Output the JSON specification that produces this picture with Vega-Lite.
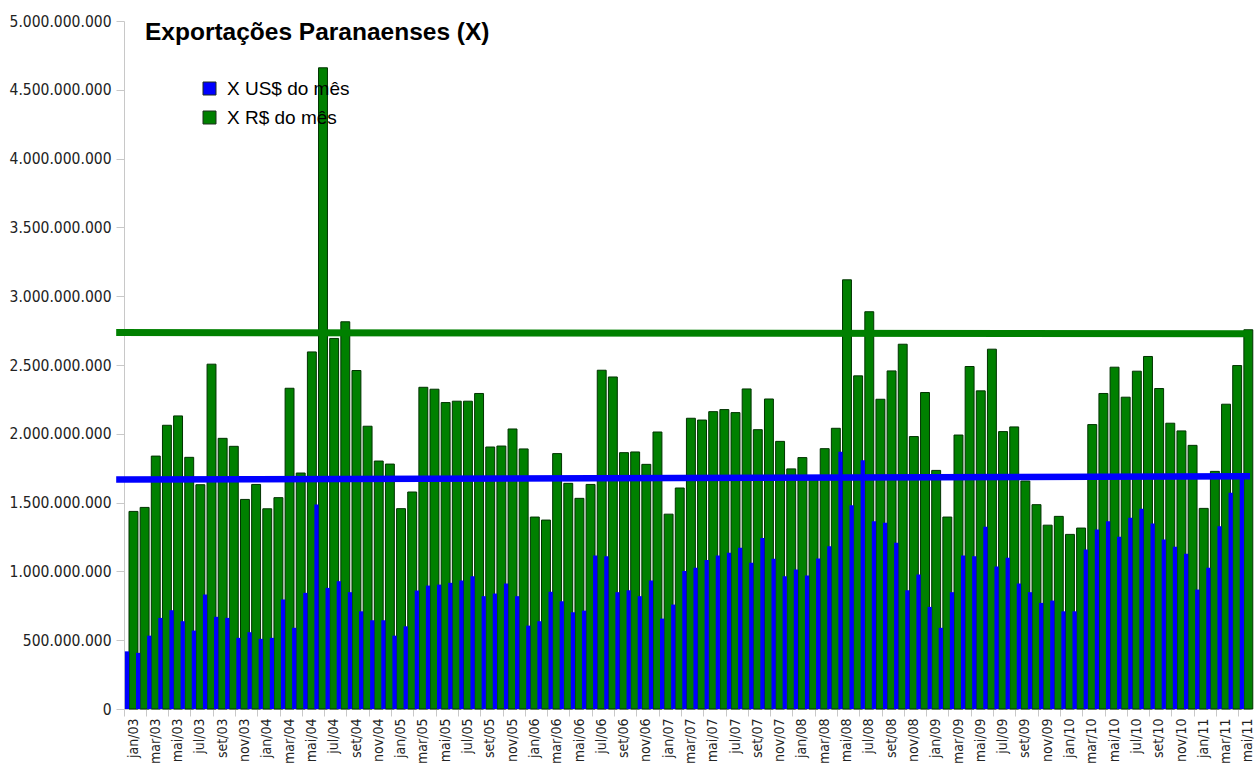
{
  "$schema": "https://vega.github.io/schema/vega-lite/v6.json",
  "width": 1126,
  "height": 688,
  "autosize": {"type": "none"},
  "padding": {"left": 124, "top": 21, "right": 4, "bottom": 58},
  "background": "white",
  "config": {
    "view": {"stroke": null},
    "locale": {"number": {"decimal": ",", "thousands": ".", "grouping": [3], "currency": ["R$", ""]}}
  },
  "title": {
    "text": "Exportações Paranaenses (X)",
    "anchor": "start",
    "frame": "group",
    "font": "Liberation Sans",
    "fontSize": 24.5,
    "fontWeight": "bold",
    "color": "black",
    "offset": -31,
    "dx": 21
  },
  "datasets": {
    "m": [
      {"mes": "jan/03", "brl": 1436000000, "usd": 419000000},
      {"mes": "fev/03", "brl": 1465000000, "usd": 408000000},
      {"mes": "mar/03", "brl": 1838000000, "usd": 533000000},
      {"mes": "abr/03", "brl": 2062000000, "usd": 662000000},
      {"mes": "mai/03", "brl": 2130000000, "usd": 718000000},
      {"mes": "jun/03", "brl": 1829000000, "usd": 638000000},
      {"mes": "jul/03", "brl": 1630000000, "usd": 570000000},
      {"mes": "ago/03", "brl": 2506000000, "usd": 832000000},
      {"mes": "set/03", "brl": 1967000000, "usd": 670000000},
      {"mes": "out/03", "brl": 1909000000, "usd": 662000000},
      {"mes": "nov/03", "brl": 1523000000, "usd": 517000000},
      {"mes": "dez/03", "brl": 1632000000, "usd": 558000000},
      {"mes": "jan/04", "brl": 1455000000, "usd": 510000000},
      {"mes": "fev/04", "brl": 1536000000, "usd": 517000000},
      {"mes": "mar/04", "brl": 2331000000, "usd": 796000000},
      {"mes": "abr/04", "brl": 1715000000, "usd": 590000000},
      {"mes": "mai/04", "brl": 2595000000, "usd": 844000000},
      {"mes": "jun/04", "brl": 4660000000, "usd": 1487000000},
      {"mes": "jul/04", "brl": 2693000000, "usd": 880000000},
      {"mes": "ago/04", "brl": 2814000000, "usd": 929000000},
      {"mes": "set/04", "brl": 2460000000, "usd": 849000000},
      {"mes": "out/04", "brl": 2055000000, "usd": 710000000},
      {"mes": "nov/04", "brl": 1802000000, "usd": 645000000},
      {"mes": "dez/04", "brl": 1780000000, "usd": 645000000},
      {"mes": "jan/05", "brl": 1456000000, "usd": 533000000},
      {"mes": "fev/05", "brl": 1577000000, "usd": 601000000},
      {"mes": "mar/05", "brl": 2338000000, "usd": 861000000},
      {"mes": "abr/05", "brl": 2324000000, "usd": 897000000},
      {"mes": "mai/05", "brl": 2227000000, "usd": 904000000},
      {"mes": "jun/05", "brl": 2237000000, "usd": 917000000},
      {"mes": "jul/05", "brl": 2237000000, "usd": 934000000},
      {"mes": "ago/05", "brl": 2293000000, "usd": 965000000},
      {"mes": "set/05", "brl": 1904000000, "usd": 820000000},
      {"mes": "out/05", "brl": 1911000000, "usd": 839000000},
      {"mes": "nov/05", "brl": 2035000000, "usd": 912000000},
      {"mes": "dez/05", "brl": 1890000000, "usd": 820000000},
      {"mes": "jan/06", "brl": 1395000000, "usd": 606000000},
      {"mes": "fev/06", "brl": 1373000000, "usd": 638000000},
      {"mes": "mar/06", "brl": 1856000000, "usd": 852000000},
      {"mes": "abr/06", "brl": 1640000000, "usd": 783000000},
      {"mes": "mai/06", "brl": 1531000000, "usd": 703000000},
      {"mes": "jun/06", "brl": 1632000000, "usd": 715000000},
      {"mes": "jul/06", "brl": 2462000000, "usd": 1116000000},
      {"mes": "ago/06", "brl": 2413000000, "usd": 1111000000},
      {"mes": "set/06", "brl": 1863000000, "usd": 849000000},
      {"mes": "out/06", "brl": 1868000000, "usd": 863000000},
      {"mes": "nov/06", "brl": 1778000000, "usd": 820000000},
      {"mes": "dez/06", "brl": 2013000000, "usd": 934000000},
      {"mes": "jan/07", "brl": 1416000000, "usd": 657000000},
      {"mes": "fev/07", "brl": 1606000000, "usd": 759000000},
      {"mes": "mar/07", "brl": 2113000000, "usd": 1002000000},
      {"mes": "abr/07", "brl": 2100000000, "usd": 1026000000},
      {"mes": "mai/07", "brl": 2161000000, "usd": 1082000000},
      {"mes": "jun/07", "brl": 2176000000, "usd": 1116000000},
      {"mes": "jul/07", "brl": 2154000000, "usd": 1135000000},
      {"mes": "ago/07", "brl": 2326000000, "usd": 1172000000},
      {"mes": "set/07", "brl": 2030000000, "usd": 1063000000},
      {"mes": "out/07", "brl": 2253000000, "usd": 1242000000},
      {"mes": "nov/07", "brl": 1945000000, "usd": 1092000000},
      {"mes": "dez/07", "brl": 1745000000, "usd": 965000000},
      {"mes": "jan/08", "brl": 1827000000, "usd": 1014000000},
      {"mes": "fev/08", "brl": 1690000000, "usd": 970000000},
      {"mes": "mar/08", "brl": 1892000000, "usd": 1094000000},
      {"mes": "abr/08", "brl": 2040000000, "usd": 1183000000},
      {"mes": "mai/08", "brl": 3119000000, "usd": 1870000000},
      {"mes": "jun/08", "brl": 2421000000, "usd": 1480000000},
      {"mes": "jul/08", "brl": 2887000000, "usd": 1807000000},
      {"mes": "ago/08", "brl": 2251000000, "usd": 1365000000},
      {"mes": "set/08", "brl": 2457000000, "usd": 1354000000},
      {"mes": "out/08", "brl": 2651000000, "usd": 1208000000},
      {"mes": "nov/08", "brl": 1980000000, "usd": 863000000},
      {"mes": "dez/08", "brl": 2300000000, "usd": 977000000},
      {"mes": "jan/09", "brl": 1734000000, "usd": 742000000},
      {"mes": "fev/09", "brl": 1395000000, "usd": 590000000},
      {"mes": "mar/09", "brl": 1991000000, "usd": 849000000},
      {"mes": "abr/09", "brl": 2489000000, "usd": 1116000000},
      {"mes": "mai/09", "brl": 2312000000, "usd": 1111000000},
      {"mes": "jun/09", "brl": 2615000000, "usd": 1325000000},
      {"mes": "jul/09", "brl": 2016000000, "usd": 1036000000},
      {"mes": "ago/09", "brl": 2050000000, "usd": 1099000000},
      {"mes": "set/09", "brl": 1657000000, "usd": 912000000},
      {"mes": "out/09", "brl": 1485000000, "usd": 849000000},
      {"mes": "nov/09", "brl": 1336000000, "usd": 771000000},
      {"mes": "dez/09", "brl": 1400000000, "usd": 788000000},
      {"mes": "jan/10", "brl": 1269000000, "usd": 710000000},
      {"mes": "fev/10", "brl": 1315000000, "usd": 710000000},
      {"mes": "mar/10", "brl": 2067000000, "usd": 1159000000},
      {"mes": "abr/10", "brl": 2293000000, "usd": 1305000000},
      {"mes": "mai/10", "brl": 2484000000, "usd": 1365000000},
      {"mes": "jun/10", "brl": 2266000000, "usd": 1252000000},
      {"mes": "jul/10", "brl": 2455000000, "usd": 1390000000},
      {"mes": "ago/10", "brl": 2562000000, "usd": 1455000000},
      {"mes": "set/10", "brl": 2329000000, "usd": 1349000000},
      {"mes": "out/10", "brl": 2077000000, "usd": 1232000000},
      {"mes": "nov/10", "brl": 2021000000, "usd": 1179000000},
      {"mes": "dez/10", "brl": 1916000000, "usd": 1128000000},
      {"mes": "jan/11", "brl": 1458000000, "usd": 868000000},
      {"mes": "fev/11", "brl": 1727000000, "usd": 1026000000},
      {"mes": "mar/11", "brl": 2215000000, "usd": 1329000000},
      {"mes": "abr/11", "brl": 2496000000, "usd": 1572000000},
      {"mes": "mai/11", "brl": 2756000000, "usd": 1700000000}
    ],
    "t": [
      {"serie": "R", "ini": "jan/03", "fim": "mai/11", "v1": 2736000000, "v2": 2728000000},
      {"serie": "U", "ini": "jan/03", "fim": "mai/11", "v1": 1667000000, "v2": 1691000000}
    ]
  },
  "layer": [
    {
      "data": {"name": "m"},
      "mark": {"type": "bar", "width": {"band": 0.8}, "xOffset": 3.9, "stroke": "#003300", "strokeWidth": 1},
      "encoding": {
        "x": {
          "field": "mes",
          "type": "ordinal",
          "scale": {
            "paddingInner": 0,
            "paddingOuter": 0,
            "domain": ["jan/03","fev/03","mar/03","abr/03","mai/03","jun/03","jul/03","ago/03","set/03","out/03","nov/03","dez/03","jan/04","fev/04","mar/04","abr/04","mai/04","jun/04","jul/04","ago/04","set/04","out/04","nov/04","dez/04","jan/05","fev/05","mar/05","abr/05","mai/05","jun/05","jul/05","ago/05","set/05","out/05","nov/05","dez/05","jan/06","fev/06","mar/06","abr/06","mai/06","jun/06","jul/06","ago/06","set/06","out/06","nov/06","dez/06","jan/07","fev/07","mar/07","abr/07","mai/07","jun/07","jul/07","ago/07","set/07","out/07","nov/07","dez/07","jan/08","fev/08","mar/08","abr/08","mai/08","jun/08","jul/08","ago/08","set/08","out/08","nov/08","dez/08","jan/09","fev/09","mar/09","abr/09","mai/09","jun/09","jul/09","ago/09","set/09","out/09","nov/09","dez/09","jan/10","fev/10","mar/10","abr/10","mai/10","jun/10","jul/10","ago/10","set/10","out/10","nov/10","dez/10","jan/11","fev/11","mar/11","abr/11","mai/11"]
          },
          "axis": {
            "title": null,
            "grid": false,
            "values": ["jan/03","mar/03","mai/03","jul/03","set/03","nov/03","jan/04","mar/04","mai/04","jul/04","set/04","nov/04","jan/05","mar/05","mai/05","jul/05","set/05","nov/05","jan/06","mar/06","mai/06","jul/06","set/06","nov/06","jan/07","mar/07","mai/07","jul/07","set/07","nov/07","jan/08","mar/08","mai/08","jul/08","set/08","nov/08","jan/09","mar/09","mai/09","jul/09","set/09","nov/09","jan/10","mar/10","mai/10","jul/10","set/10","nov/10","jan/11","mar/11","mai/11"],
            "bandPosition": 0,
            "labelOffset": 4,
            "labelAngle": -90,
            "labelOverlap": false,
            "labelFont": "DejaVu Sans Condensed, DejaVu Sans",
            "labelFontSize": 14,
            "labelColor": "#222222",
            "labelPadding": 2,
            "domainColor": "#c8c8c8",
            "tickColor": "#c8c8c8",
            "tickSize": 7
          }
        },
        "y": {
          "field": "brl",
          "type": "quantitative",
          "scale": {"domain": [0, 5000000000], "nice": false},
          "axis": {
            "title": null,
            "grid": false,
            "values": [0, 500000000, 1000000000, 1500000000, 2000000000, 2500000000, 3000000000, 3500000000, 4000000000, 4500000000, 5000000000],
            "format": ",d",
            "labelFont": "DejaVu Sans Condensed, DejaVu Sans",
            "labelFontSize": 15.5,
            "labelColor": "#222222",
            "labelPadding": 5,
            "domainColor": "#c8c8c8",
            "tickColor": "#c8c8c8",
            "tickSize": 8
          }
        },
        "color": {
          "datum": "X R$ do mês",
          "type": "nominal",
          "scale": {"domain": ["X US$ do mês", "X R$ do mês"], "range": ["#0000ff", "#008000"]},
          "legend": {
            "title": null,
            "orient": "none",
            "legendX": 76,
            "legendY": 58,
            "padding": 0,
            "symbolType": "square",
            "symbolSize": 169,
            "symbolStrokeColor": "#1f2f1f",
            "symbolStrokeWidth": 1,
            "labelFont": "Liberation Sans",
            "labelFontSize": 19,
            "labelColor": "black",
            "labelOffset": 8,
            "rowPadding": 9
          }
        }
      }
    },
    {
      "data": {"name": "m"},
      "mark": {"type": "bar", "width": {"band": 0.38}, "xOffset": -2.6},
      "encoding": {
        "x": {"field": "mes", "type": "ordinal"},
        "y": {"field": "usd", "type": "quantitative"},
        "color": {"datum": "X US$ do mês", "type": "nominal"}
      }
    },
    {
      "data": {"name": "t"},
      "transform": [{"filter": "datum.serie == 'R'"}],
      "mark": {"type": "rule", "stroke": "#008000", "strokeWidth": 7},
      "encoding": {
        "x": {"field": "ini", "type": "ordinal", "bandPosition": -0.7},
        "x2": {"field": "fim", "bandPosition": 1},
        "y": {"field": "v1", "type": "quantitative"},
        "y2": {"field": "v2"}
      }
    },
    {
      "data": {"name": "t"},
      "transform": [{"filter": "datum.serie == 'U'"}],
      "mark": {"type": "rule", "stroke": "#0000ff", "strokeWidth": 6.5},
      "encoding": {
        "x": {"field": "ini", "type": "ordinal", "bandPosition": -0.7},
        "x2": {"field": "fim", "bandPosition": 1},
        "y": {"field": "v1", "type": "quantitative"},
        "y2": {"field": "v2"}
      }
    }
  ]
}
